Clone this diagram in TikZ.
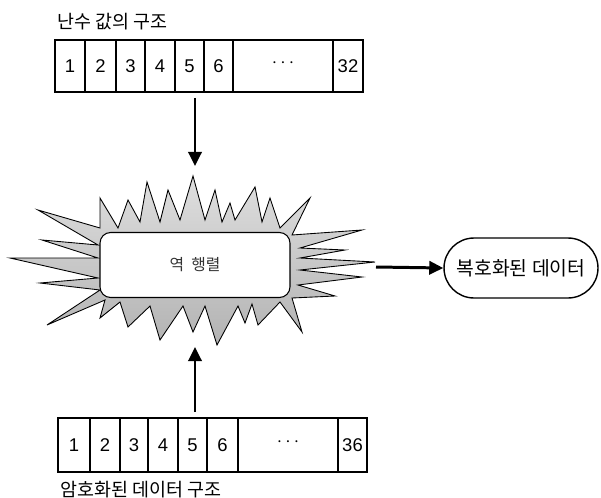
\documentclass[tikz,border=0pt]{standalone}
\usepackage{fontspec}
\setmainfont{Liberation Sans}
\newfontfamily\kr{Noto Sans CJK KR}
\usetikzlibrary{arrows.meta}
\tikzset{
  cell/.style={draw, line width=0.8pt, inner sep=0pt, font=\fontsize{10.5}{12}\selectfont},
  arr/.style={line width=1.7pt, -{Triangle[length=8pt,width=7.5pt]}},
  title/.style={anchor=west, inner sep=0pt, font=\kr\fontsize{10.5}{12}\selectfont}
}
\begin{document}
\begin{tikzpicture}[x=0.02cm, y=-0.02cm]
    \useasboundingbox (0,0) rectangle (601,497);
    % random value structure
    \node[title] (rtitle) at (57,22) {난수 값의 구조};
    \foreach \a/\b/\t [count=\i] in {55/85/1, 85/116/2, 116/145/3, 145/175/4, 175/204/5, 204/233/6, 233/333/\raisebox{3pt}{$\cdots$}, 333/363/32}
        \node[cell, minimum width={(\b-\a)*0.02cm}, minimum height=1.04cm] (r\i) at ({(\a+\b)/2},66) {\t};
    % encrypted data structure
    \foreach \a/\b/\t [count=\i] in {58/90/1, 90/120/2, 120/148/3, 148/178/4, 178/207/5, 207/238/6, 238/338/\raisebox{3pt}{$\cdots$}, 338/367/36}
        \node[cell, minimum width={(\b-\a)*0.02cm}, minimum height=1.08cm] (e\i) at ({(\a+\b)/2},445) {\t};
    \node[title] (etitle) at (60,490) {암호화된 데이터 구조};
    % starburst
    \draw[line width=0.5pt, top color=gray!25, bottom color=gray!60]
        (100,228) -- (100,198) -- (118,228) -- (128,200) -- (140,222) -- (147,182)
        -- (160,222) -- (168,190) -- (180,220) -- (193,176) -- (205,220) -- (215,190)
        -- (222,222) -- (230,203) -- (235,220) -- (255,187) -- (262,222) -- (270,198)
        -- (280,228) -- (310,198) -- (292,235) -- (362,230) -- (300,248) -- (345,250)
        -- (300,258) -- (375,262) -- (300,270) -- (362,277) -- (298,285) -- (335,296)
        -- (292,298) -- (302,332) -- (280,302) -- (258,325) -- (252,304) -- (245,323)
        -- (238,306) -- (217,345) -- (205,306) -- (193,332) -- (183,306) -- (160,340)
        -- (150,306) -- (128,327) -- (120,302) -- (100,318) -- (105,300) -- (47,325)
        -- (100,290) -- (40,283) -- (98,278) -- (10,258) -- (98,258) -- (42,240)
        -- (98,245) -- (38,210) -- cycle;
    \coordinate (btop) at (195,166);
    \coordinate (bbot) at (195,347);
    \coordinate (bright) at (376,267);
    \node[draw, line width=0.6pt, fill=white, rounded corners=6pt, minimum width=3.8cm, minimum height=1.3cm,
        font=\kr\fontsize{9}{11}\selectfont, text=black!80] (inv) at (195,265) {역\ \ 행렬};
    \node[draw, line width=0.8pt, rounded corners=0.6cm, minimum width=3.08cm, minimum height=1.2cm,
        font=\kr\fontsize{11}{13}\selectfont] (out) at (521,268) {복호화된 데이터};
    % arrows
    \draw[arr] ([yshift=-3pt]r5.south east -| btop) -- (btop);
    \draw[arr] ([yshift=3pt]e5.north east -| bbot) -- (bbot);
    \draw[arr] (bright) -- (out.west);
\end{tikzpicture}
\end{document}
